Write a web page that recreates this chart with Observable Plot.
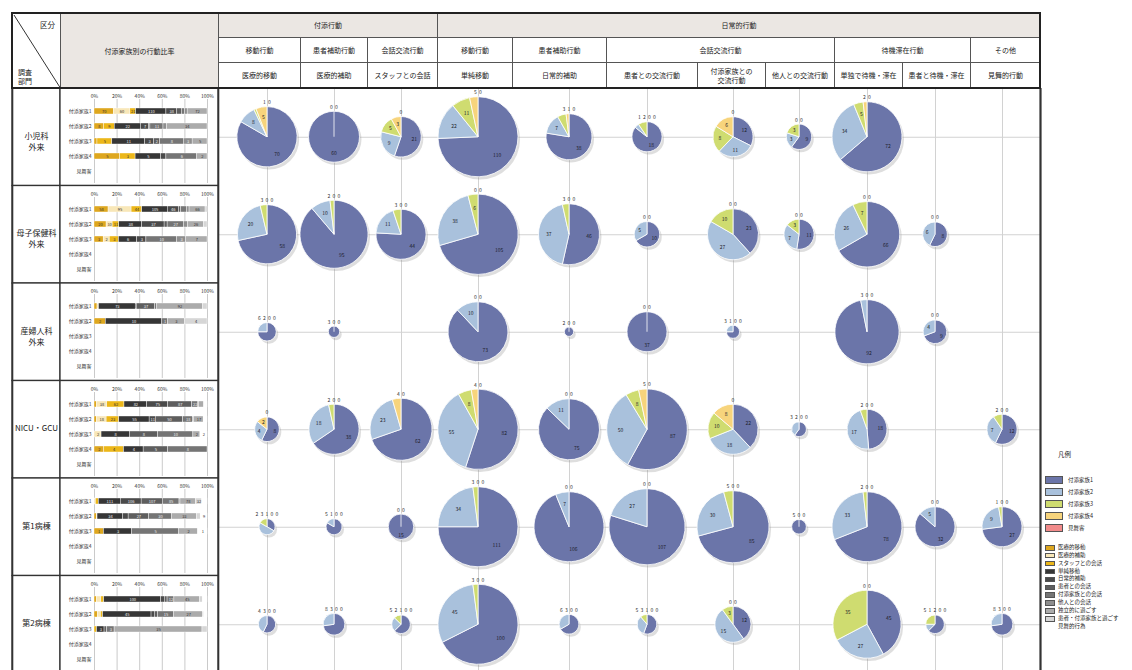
<!DOCTYPE html>
<html><head><meta charset="utf-8">
<script src="https://cdn.jsdelivr.net/npm/d3@7"></script>
<script src="https://cdn.jsdelivr.net/npm/@observablehq/plot@0.6"></script>
<style>
body{margin:0;background:#fff;font-family:"Noto Sans CJK JP","Noto Sans",sans-serif;}
#wrap{position:relative;width:1132px;height:670px;overflow:hidden;background:#fff;}
#wrap > *{position:absolute;}
.hc{box-sizing:border-box;border:1px solid #555;display:flex;align-items:center;justify-content:center;text-align:center;font-size:7px;line-height:1.2;color:#222;}
.lg{font-size:5.5px;color:#222;white-space:nowrap;line-height:1;}
</style></head><body><div id="wrap"></div>
<script>
// ---------- data ----------
const departments = ["小児科外来","母子保健科外来","産婦人科外来","NICU・GCU","第1病棟","第2病棟"];
const deptLine1 = ["小児科","母子保健科","産婦人科","NICU・GCU","第1病棟","第2病棟"];
const deptLine2 = ["外来","外来","外来","","",""];
const behaviors = ["医療的移動","医療的補助","スタッフとの会話","単純移動","日常的補助","患者との交流行動","付添家族との交流行動","他人との交流行動","単独で待機・滞在","患者と待機・滞在","見舞的行動"];
const behaviorHeader = ["医療的移動","医療的補助","スタッフとの会話","単純移動","日常的補助","患者との交流行動","付添家族との\n交流行動","他人との交流行動","単独で待機・滞在","患者と待機・滞在","見舞的行動"];
const legendBehaviors = ["医療的移動","医療的補助","スタッフとの会話","単純移動","日常的補助","患者との会話","付添家族との会話","他人との会話","独立的に過ごす","患者・付添家族と過ごす","見舞的行為"];
const families = ["付添家族1","付添家族2","付添家族3","付添家族4","見舞客"];
const groupTop = [["付添行動",0,3],["日常的行動",3,11]];
const groupMid = [["移動行動",0,1],["患者補助行動",1,2],["会話交流行動",2,3],["移動行動",3,4],["患者補助行動",4,5],["会話交流行動",5,8],["待機滞在行動",8,10],["その他",10,11]];
const pctTicks = [0, 0.2, 0.4, 0.6, 0.8, 1];

// counts per behavior: [付添家族1, 付添家族2, 付添家族3, 付添家族4, 見舞客]
const shonika = [[70,8,1,5,0],[60,0,0,0,0],[21,9,5,3,0],[110,22,11,5,0],[38,7,3,1,0],[18,1,2,0,0],[12,11,8,6,0],[9,3,3,0,0],[72,34,5,2,0],null,null];
const boshi   = [[58,20,3,0,0],[95,10,2,0,0],[44,11,3,0,0],[105,38,6,0,0],[46,37,3,0,0],[10,5,0,0,0],[23,27,10,0,0],[11,7,3,0,0],[66,26,7,0,0],[8,6,0,0,0],null];
const sanfu   = [[6,2,0,0,0],[3,0,0,0,0],null,[73,10,0,0,0],[2,0,0,0,0],[37,0,0,0,0],[3,1,0,0,0],null,[92,3,0,0,0],[9,4,0,0,0],null];
const nicu    = [[8,4,0,2,0],[38,18,2,0,0],[62,23,0,4,0],[82,55,8,4,0],[75,11,0,0,0],[87,50,8,5,0],[22,18,10,8,0],[3,2,0,0,0],[18,17,2,0,0],null,[12,7,2,0,0]];
const byoto1  = [[2,3,1,0,0],[5,1,0,0,0],[15,0,0,0,0],[111,34,3,0,0],[106,7,0,0,0],[107,27,0,0,0],[85,30,5,0,0],[5,0,0,0,0],[78,33,2,0,0],[32,5,0,0,0],[27,9,1,0,0]];
const byoto2  = [[4,3,0,0,0],[8,3,0,0,0],[5,2,1,0,0],[100,45,3,0,0],[6,3,0,0,0],[5,3,1,0,0],[12,15,3,0,0],null,[45,27,35,0,0],[5,1,2,0,0],[8,3,0,0,0]];
const countsByDept = [shonika, boshi, sanfu, nicu, byoto1, byoto2];

// ---------- styles / layout ----------
const familyColors = ["#6b75a9","#a9c1dc","#cfdc70","#f7d47c","#f28b8b"];
const behaviorColors = ["#dea71f","#f8e7b8","#ecb719","#363636","#4a4a4a","#5e5e5e","#757575","#8e8e8e","#ababab","#d6d6d6","#ffffff"];
const W = 1132, H = 670;
const frame = {left:12, col1:60, col2:218, right:1040, headRows:[13,37,62,88], bodyTop:88, rowH:97.5};
const colEdges = [218,300,367,437,512,606,697,765,834,902,970,1040];
const pieGridX = [267,334,401,478,569,647,733,799,867,935,1002];
const FONT = '"Noto Sans CJK JP","Noto Sans",sans-serif';

const wrap = document.getElementById("wrap");

// ---------- pies table ----------
const pies = [];
departments.forEach((d, i) => countsByDept[i].forEach((vals, j) => {
  if (vals) pies.push({dept: d, behavior: behaviors[j], gx: pieGridX[j], values: vals, total: d3.sum(vals)});
}));

function pieMark(index, scales, values, dimensions, context) {
  const NS = "http://www.w3.org/2000/svg";
  const doc = (context && context.document) || document;
  const el = (tag, attrs, parent) => { const n = doc.createElementNS(NS, tag); for (const k in attrs) n.setAttribute(k, attrs[k]); if (parent) parent.appendChild(n); return n; };
  const g = el("g", {"font-family": FONT, "font-size": 5, "text-anchor": "middle"});
  const bw = scales.y.bandwidth ? scales.y.bandwidth() : 0;
  for (const p of pies) {
    const cx = scales.x(p.gx), cy = scales.y(p.dept) + bw / 2, r = scales.r(p.total);
    const pg = el("g", {transform: `translate(${cx},${cy})`}, g);
    const arcs = d3.pie().sort(null).value(v => v)(p.values);
    const arcGen = d3.arc().innerRadius(0).outerRadius(r);
    arcs.forEach((a, k) => {
      if (a.value > 0) el("path", {d: arcGen(a), fill: familyColors[k], stroke: "#fff", "stroke-width": 0.8}, pg);
    });
    if (p.values.filter(v => v > 0).length === 1) el("line", {x1: 0, y1: 0, x2: 0, y2: -r, stroke: "#fff", "stroke-width": 0.8}, pg);
    const lastNZ = p.values.reduce((m, v, k) => v > 0 ? k : m, 0);
    const outside = [];
    arcs.forEach((a, k) => {
      if (a.value === 0) { if (k > lastNZ && k <= lastNZ + 2) outside.push("0"); return; }
      const span = a.endAngle - a.startAngle;
      if (r >= 11 && span * r * 0.62 > 6) {
        const m = (a.startAngle + a.endAngle) / 2, rr = r * 0.66;
        const t = el("text", {x: Math.sin(m) * rr, y: -Math.cos(m) * rr, dy: "0.35em", fill: "#1d1d2a"}, pg);
        t.textContent = a.value;
      } else outside.push(String(a.value));
    });
    outside.forEach((s, k) => {
      const t = el("text", {x: (k - (outside.length - 1) / 2) * 5, y: -r - 2.5, fill: "#333"}, pg);
      t.textContent = s;
    });
  }
  return g;
}

// ---------- main chart ----------
const main = Plot.plot({
  width: W, height: H - frame.bodyTop, margin: 0,
  x: {domain: [0, W], range: [0, W], axis: null},
  y: {type: "band", domain: departments, range: [0, frame.rowH * departments.length], padding: 0, axis: null, round: false},
  r: {type: "sqrt", domain: [0, 150], range: [0, 40.3]},
  style: {fontFamily: FONT, background: "transparent", overflow: "hidden"},
  marks: [
    Plot.ruleX(pieGridX, {stroke: "#d2d2d2", strokeWidth: 1}),
    Plot.ruleY(departments, {y: d => d, x1: frame.col2, x2: frame.right, stroke: "#d2d2d2", strokeWidth: 1}),
    Plot.barX(departments, {y: d => d, x1: frame.left, x2: frame.col1, fill: "white", stroke: "#333", strokeWidth: 1.3}),
    Plot.barX(departments, {y: d => d, x1: frame.col1, x2: frame.col2, fill: "white", stroke: "#333", strokeWidth: 1.3}),
    Plot.text(departments, {y: d => d, x: (frame.left + frame.col1) / 2, text: (d, i) => deptLine1[i], fontSize: 8, fill: "#222", dy: -1}),
    Plot.text(departments.filter((d, i) => deptLine2[i]), {y: d => d, x: (frame.left + frame.col1) / 2, text: d => deptLine2[departments.indexOf(d)], fontSize: 8, fill: "#222", dy: 10}),
    Plot.ruleX([frame.left, frame.col2], {stroke: "#333", strokeWidth: 1.6}),
    Plot.ruleX([frame.right], {stroke: "#333", strokeWidth: 2.2}),
    Plot.dot(pies, {x: "gx", y: "dept", r: "total", fill: "#8a8a8a", fillOpacity: 0.28, dx: 1.5, dy: 2.2, stroke: null}),
    pieMark
  ]
});
main.style.left = "0px"; main.style.top = frame.bodyTop + "px";
wrap.appendChild(main);

// ---------- mini stacked bar charts ----------
countsByDept.forEach((counts, di) => {
  const rows = [];
  families.forEach((f, fi) => {
    const tot = d3.sum(counts, c => c ? c[fi] : 0);
    behaviors.forEach((b, bi) => {
      const v = counts[bi] ? counts[bi][fi] : 0;
      if (v > 0) rows.push({family: f, behavior: b, bi, value: v, share: v / tot});
    });
  });
  const chart = Plot.plot({
    width: 156, height: 96, marginTop: 10, marginBottom: 2, marginLeft: 33, marginRight: 10,
    x: {domain: [0, 1], axis: "top", ticks: pctTicks, tickFormat: d3.format(".0%"), tickSize: 0, tickPadding: 2, label: null},
    y: {domain: families, paddingInner: 0.6, paddingOuter: 0.55, tickSize: 0, tickPadding: 3, label: null},
    color: {domain: behaviors, range: behaviorColors},
    style: {fontFamily: FONT, fontSize: "5px", background: "transparent", color: "#333"},
    marks: [
      Plot.ruleX(pctTicks, {stroke: "#bdbdbd", strokeWidth: 0.8}),
      Plot.barX(rows, Plot.stackX({x: "value", y: "family", z: "behavior", fill: "behavior", offset: "normalize", stroke: "#fff", strokeWidth: 0.4})),
      Plot.text(rows, Plot.stackX({x: "value", y: "family", z: "behavior", offset: "normalize",
        text: d => d.share >= 0.05 ? d.value : "", fontSize: 4, fill: d => (d.bi >= 3 && d.bi <= 7) ? "#eee" : "#333"}))
    ]
  });
  chart.style.left = (frame.col1 + 1) + "px";
  chart.style.top = (frame.bodyTop + di * frame.rowH + 1) + "px";
  wrap.appendChild(chart);
});

// ---------- header (HTML table cells) ----------
const BEIGE = "#ebe7e3";
function hcell(x1, y1, x2, y2, html, bg) {
  const d = document.createElement("div");
  d.className = "hc";
  d.style.cssText = `left:${x1}px;top:${y1}px;width:${x2 - x1 + 1}px;height:${y2 - y1 + 1}px;background:${bg || "#fff"};`;
  d.innerHTML = html;
  wrap.appendChild(d);
  return d;
}
const [r0, r1, r2, r3] = frame.headRows;
const wDiag = frame.col1 - frame.left, hDiag = r3 - r0;
hcell(frame.left, r0, frame.col1, r3,
  `<svg width="${wDiag}" height="${hDiag}" style="position:absolute;left:0;top:0"><line x1="1" y1="1" x2="${wDiag}" y2="${hDiag}" stroke="#333" stroke-width="1"/></svg>` +
  `<span style="position:absolute;right:5px;top:7px;font-size:7.5px;line-height:1">区分</span>` +
  `<span style="position:absolute;left:5px;top:55px;font-size:7px;line-height:1">調査</span>` +
  `<span style="position:absolute;left:5px;top:64px;font-size:7px;line-height:1">部門</span>`);
hcell(frame.col1, r0, frame.col2, r3, "付添家族別の行動比率", BEIGE);
groupTop.forEach(([t, a, b]) => hcell(colEdges[a], r0, colEdges[b], r1, t, BEIGE));
groupMid.forEach(([t, a, b]) => hcell(colEdges[a], r1, colEdges[b], r2, t));
behaviorHeader.forEach((t, i) => hcell(colEdges[i], r2, colEdges[i + 1], r3, t.replace("\n", "<br>")));
const outer = document.createElement("div");
outer.style.cssText = `left:${frame.left - 1}px;top:${r0 - 1}px;width:${frame.right - frame.left + 2}px;height:${r3 - r0 + 2}px;box-sizing:border-box;border:2px solid #222;pointer-events:none;`;
wrap.appendChild(outer);

// ---------- legend ----------
function lgText(x, y, t, size) {
  const d = document.createElement("div"); d.className = "lg";
  d.style.left = x + "px"; d.style.top = y + "px"; if (size) d.style.fontSize = size + "px";
  d.textContent = t; wrap.appendChild(d);
}
function lgBox(x, y, w, h, c, border) {
  const d = document.createElement("div");
  d.style.cssText = `left:${x}px;top:${y}px;width:${w}px;height:${h}px;background:${c};box-sizing:border-box;border:${border};`;
  wrap.appendChild(d);
}
lgText(1058, 451, "凡例", 6.5);
families.forEach((f, i) => { lgBox(1045, 476 + i * 12, 18, 8, familyColors[i], "1px solid #555"); lgText(1068, 477.5 + i * 12, f); });
legendBehaviors.forEach((b, i) => {
  const y = 545 + i * 7.9;
  if (i < legendBehaviors.length - 1) lgBox(1045, y, 10, 5.5, behaviorColors[i], "0.6px solid #555");
  lgText(1058, y - 0.2, b);
});
</script></body></html>
